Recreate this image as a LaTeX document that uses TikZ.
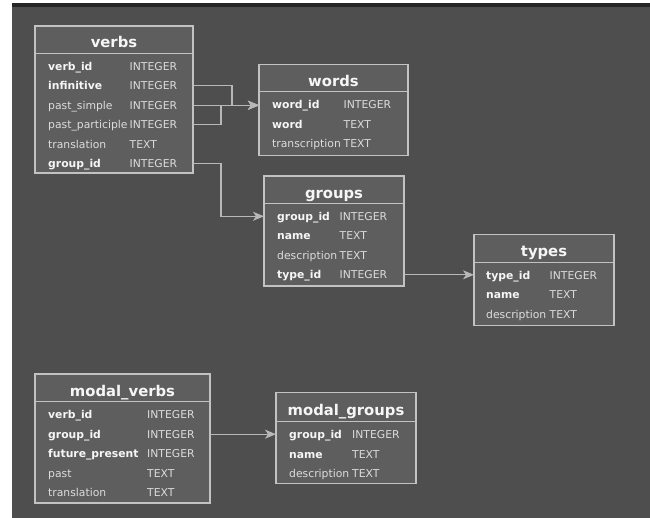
\documentclass[tikz,border=0pt]{standalone}
\usepackage{fontspec}
\setmainfont{DejaVu Sans}
\usepackage{xcolor}
\usetikzlibrary{arrows.meta}

\definecolor{canvas}{HTML}{4E4E4E}
\definecolor{topbar}{HTML}{262626}
\definecolor{boxfill}{HTML}{5E5E5E}
\definecolor{edge}{HTML}{C2C2C2}
\definecolor{wire}{HTML}{B8B8B8}
\definecolor{keytext}{HTML}{F6F6F6}
\definecolor{plaintext}{HTML}{DCDCDC}

\begin{document}
\begin{tikzpicture}[x=1pt, y=-1pt,
        tbl/.style={draw=edge, fill=boxfill, line width=1.2pt, inner sep=0pt, outer sep=0pt, anchor=north west},
        rule/.style={draw=edge, line width=1.2pt},
        title/.style={anchor=base, inner sep=0pt, text=keytext, font=\fontsize{14.8}{16}\selectfont\bfseries},
        key/.style={anchor=west, inner sep=0pt, text height=7.8pt, text depth=0pt, text=keytext,
            font=\fontsize{10.8}{11}\selectfont\bfseries},
        col/.style={anchor=west, inner sep=0pt, text height=7.8pt, text depth=0pt, text=plaintext,
            font=\fontsize{10.8}{11}\selectfont},
        link/.style={draw=wire, line width=1.2pt, -{Stealth[length=11pt, width=9pt, inset=3pt]}}]
        \useasboundingbox (0, 0) rectangle (650, 518);
        % Canvas
        \fill [white] (0, 0) rectangle (650, 518);
        \fill [canvas] (12, 3) rectangle (650, 518);
        \fill [topbar] (12, 3) rectangle (650, 7);
        % verbs
        \node [tbl, minimum width=158pt, minimum height=147pt] (verbs) at (35, 26) {};
        \draw [rule] (35, 53.3) -- (193, 53.3);
        \node [title] (verbs-title) at (114, 48) {verbs};
        \foreach \name/\type/\kind [count=\i] in {verb\_id/INTEGER/key, infinitive/INTEGER/key,
            past\_simple/INTEGER/col, past\_participle/INTEGER/col, translation/TEXT/col, group\_id/INTEGER/key} {
            \node [\kind] (verbs-\i) at (48, 46.8 + 19.5 * \i) {\name};
            \node [col] (verbs-\i-type) at (129.5, 46.8 + 19.5 * \i) {\type};
        }
        % words
        \node [tbl, minimum width=149pt, minimum height=91pt] (words) at (259, 64.3) {};
        \draw [rule] (259, 91.7) -- (408, 91.7);
        \node [title] (words-title) at (333.5, 86.5) {words};
        \foreach \name/\type/\kind [count=\i] in {word\_id/INTEGER/key, word/TEXT/key, transcription/TEXT/col} {
            \node [\kind] (words-\i) at (272, 85.2 + 19.5 * \i) {\name};
            \node [col] (words-\i-type) at (343.5, 85.2 + 19.5 * \i) {\type};
        }
        % groups
        \node [tbl, minimum width=140pt, minimum height=110pt] (groups) at (264, 176) {};
        \draw [rule] (264, 203.3) -- (404, 203.3);
        \node [title] (groups-title) at (334, 198.3) {groups};
        \foreach \name/\type/\kind [count=\i] in {group\_id/INTEGER/key, name/TEXT/key,
            description/TEXT/col, type\_id/INTEGER/key} {
            \node [\kind] (groups-\i) at (277, 196.8 + 19.5 * \i) {\name};
            \node [col] (groups-\i-type) at (339.5, 196.8 + 19.5 * \i) {\type};
        }
        % types
        \node [tbl, minimum width=140pt, minimum height=91pt] (types) at (474, 234.3) {};
        \draw [rule] (474, 262.3) -- (614, 262.3);
        \node [title] (types-title) at (544, 256.8) {types};
        \foreach \name/\type/\kind [count=\i] in {type\_id/INTEGER/key, name/TEXT/key, description/TEXT/col} {
            \node [\kind] (types-\i) at (486, 255.8 + 19.5 * \i) {\name};
            \node [col] (types-\i-type) at (549.5, 255.8 + 19.5 * \i) {\type};
        }
        % modal_verbs
        \node [tbl, minimum width=175pt, minimum height=129pt] (mverbs) at (35, 374) {};
        \draw [rule] (35, 401.7) -- (210, 401.7);
        \node [title] (mverbs-title) at (122.5, 396.5) {modal\_verbs};
        \foreach \name/\type/\kind [count=\i] in {verb\_id/INTEGER/key, group\_id/INTEGER/key,
            future\_present/INTEGER/key, past/TEXT/col, translation/TEXT/col} {
            \node [\kind] (mverbs-\i) at (48, 395.2 + 19.5 * \i) {\name};
            \node [col] (mverbs-\i-type) at (147, 395.2 + 19.5 * \i) {\type};
        }
        % modal_groups
        \node [tbl, minimum width=140pt, minimum height=91pt] (mgroups) at (276, 392.7) {};
        \draw [rule] (276, 421.7) -- (416, 421.7);
        \node [title] (mgroups-title) at (346, 415.5) {modal\_groups};
        \foreach \name/\type/\kind [count=\i] in {group\_id/INTEGER/key, name/TEXT/key, description/TEXT/col} {
            \node [\kind] (mgroups-\i) at (289, 415.2 + 19.5 * \i) {\name};
            \node [col] (mgroups-\i-type) at (352, 415.2 + 19.5 * \i) {\type};
        }
        % Arrows
        \draw [link] (verbs-2.west -| verbs.east) -- ++(39, 0) |- (words.west |- verbs-3.west);
        \draw [link] (verbs-3.west -| verbs.east) -- (words.west |- verbs-3.west);
        \draw [link] (verbs-4.west -| verbs.east) -- ++(28, 0) |- (words.west |- verbs-3.west);
        \draw [link] (verbs-6.west -| verbs.east) -- ++(28, 0) |- (groups.west |- groups-1.west);
        \draw [link] (groups-4.west -| groups.east) -- (types.west |- groups-4.west);
        \draw [link] (mverbs-2.west -| mverbs.east) -- (mgroups.west |- mverbs-2.west);
    \end{tikzpicture}
\end{document}
